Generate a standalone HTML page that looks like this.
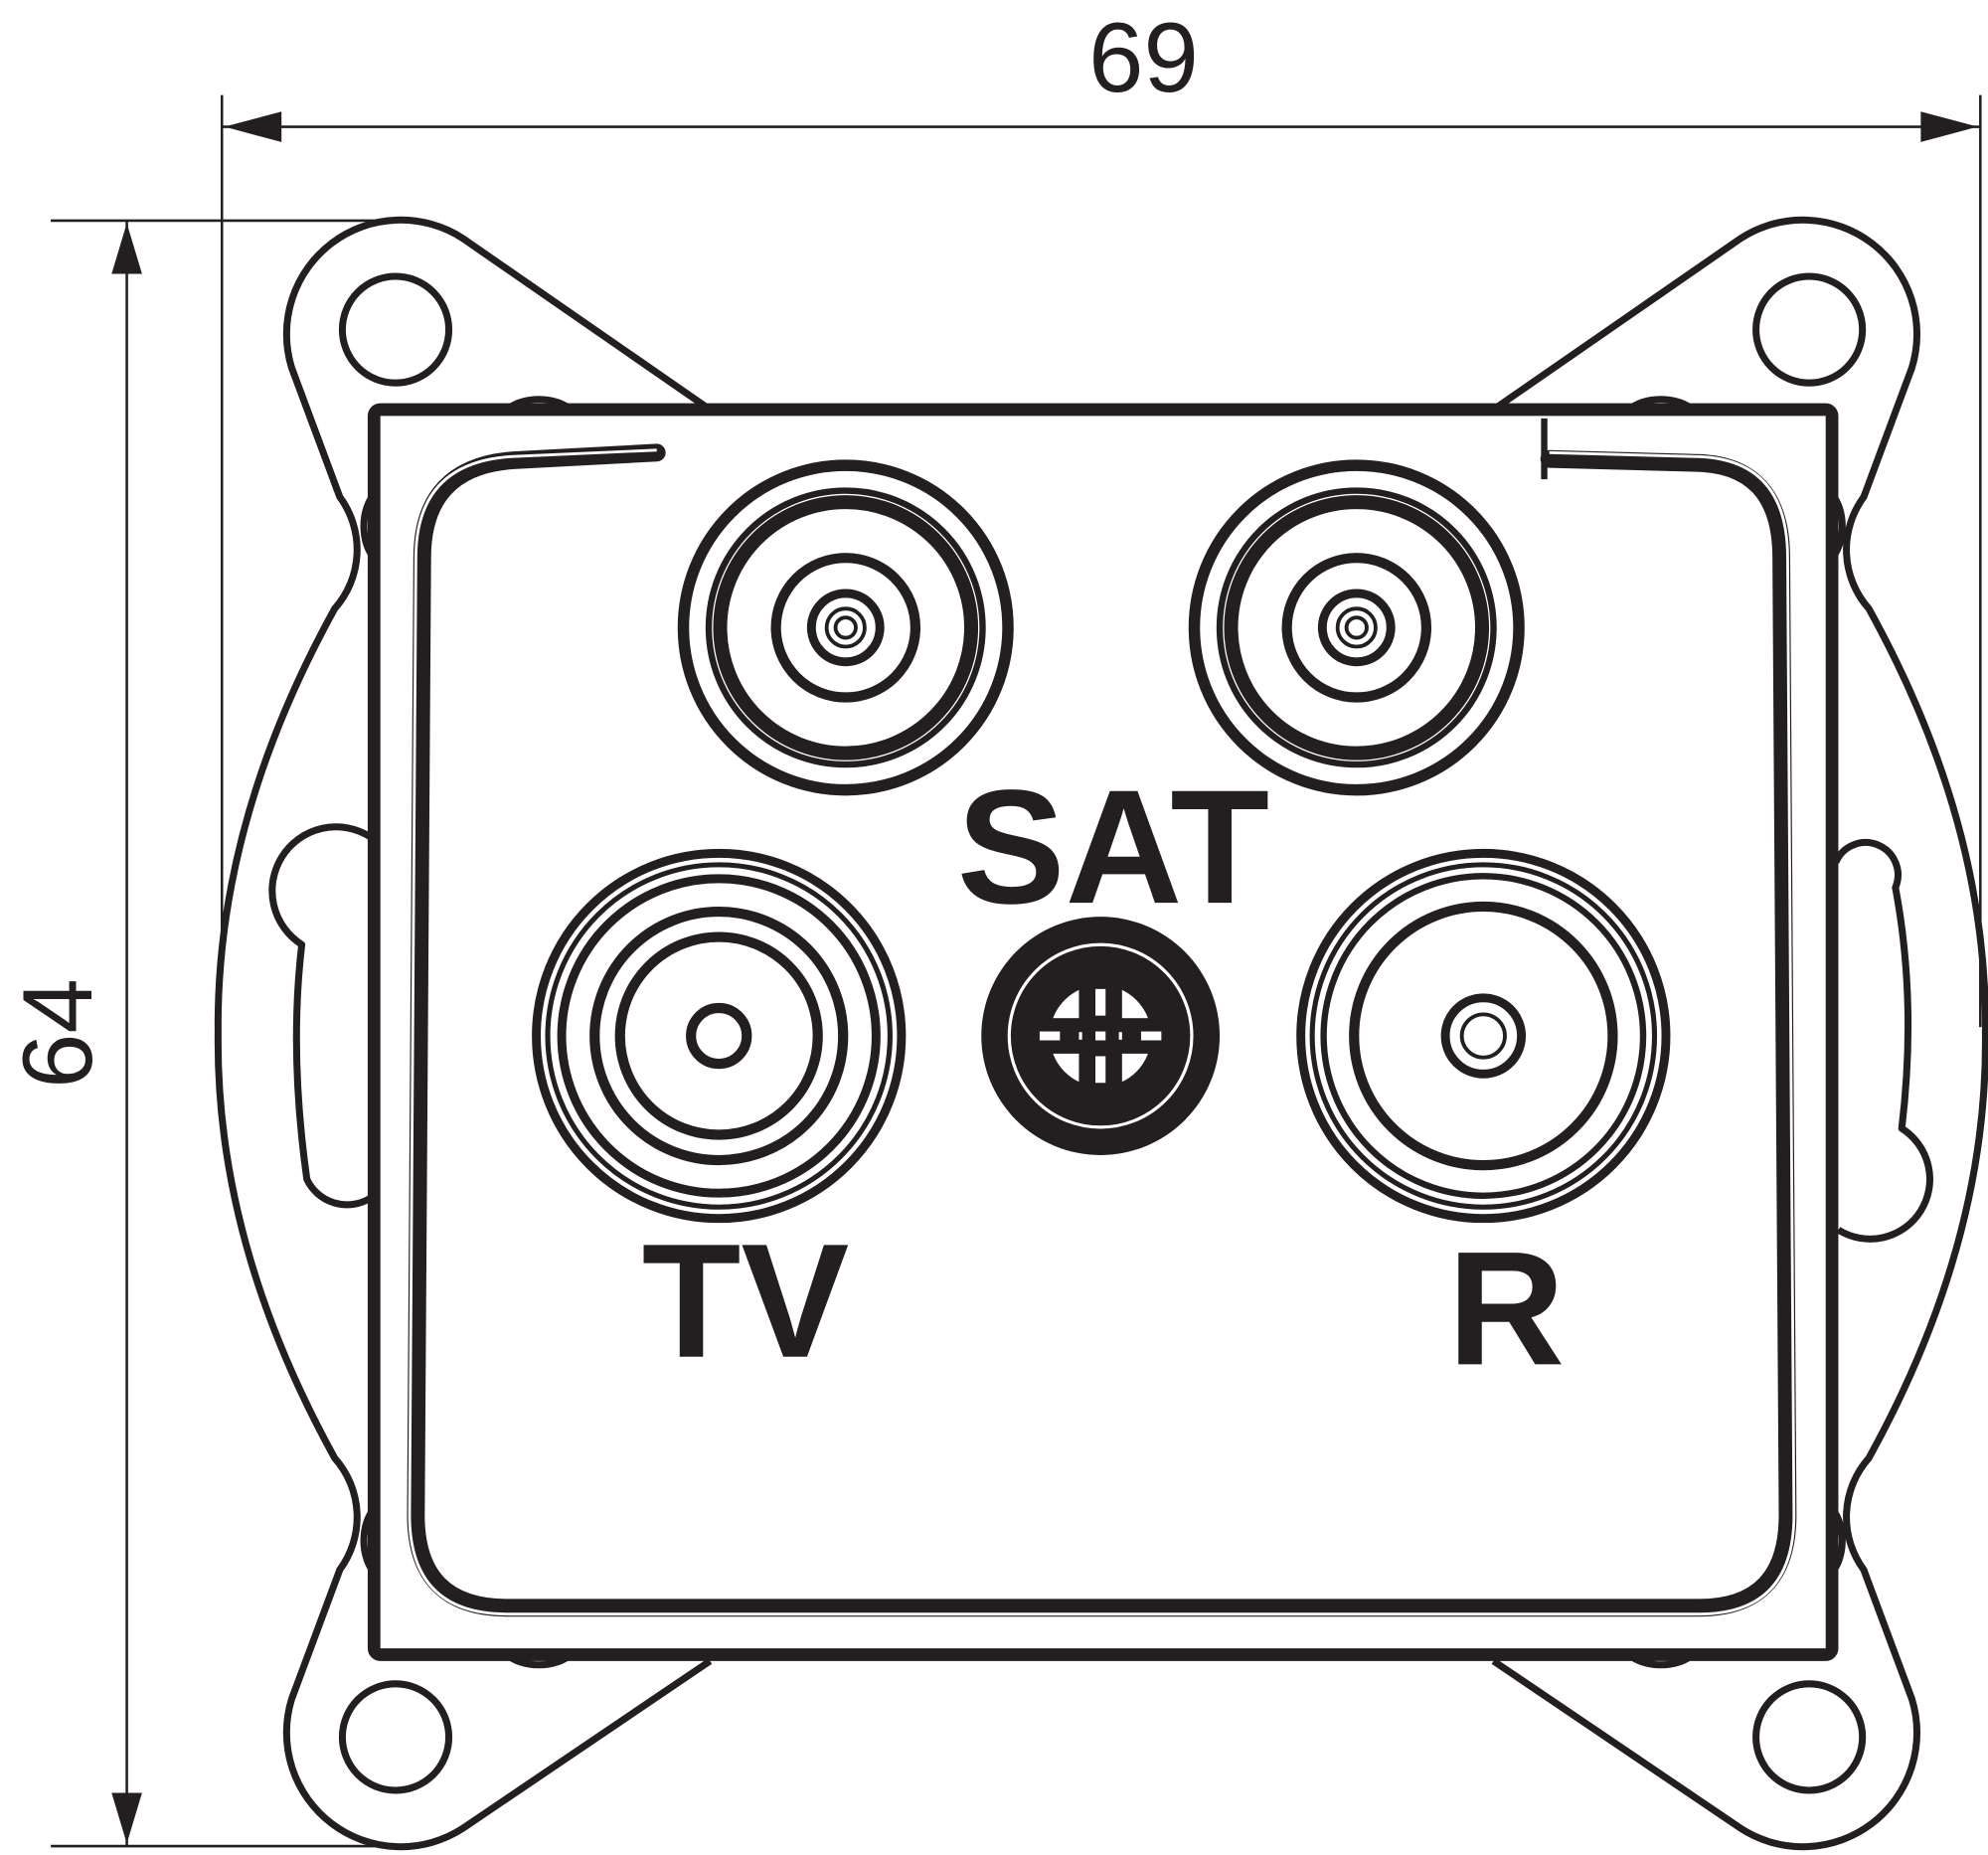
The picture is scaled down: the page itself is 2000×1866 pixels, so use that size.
<!DOCTYPE html>
<html><head><meta charset="utf-8"><style>
html,body{margin:0;padding:0;background:#fff;}
svg{display:block;}
</style></head><body>
<svg width="2000" height="1866" viewBox="0 0 1568 1463" xmlns="http://www.w3.org/2000/svg">
<rect width="1568" height="1463" fill="#fff"/>
<g fill="none" stroke="#231f20" stroke-width="2">
<line x1="175" y1="75" x2="175" y2="765"/>
<line x1="1562" y1="75" x2="1562" y2="810"/>
<line x1="175" y1="100" x2="1562" y2="100"/>
<line x1="40" y1="174" x2="300" y2="174"/>
<line x1="40" y1="1456" x2="300" y2="1456"/>
<line x1="100" y1="174" x2="100" y2="1456"/>
</g>
<g fill="#231f20">
<polygon points="177,100 222,88 222,112"/>
<polygon points="1560,100 1515,88 1515,112"/>
<polygon points="100,176 88,216 112,216"/>
<polygon points="100,1454 88,1414 112,1414"/>
</g>
<text x="902" y="72" font-family="Liberation Sans, sans-serif" font-size="78" fill="#231f20" text-anchor="middle">69</text>
<text transform="translate(72,815) rotate(-90)" font-family="Liberation Sans, sans-serif" font-size="78" fill="#231f20" text-anchor="middle">64</text>

<g fill="none" stroke="#231f20" stroke-width="5.5" stroke-linejoin="round">
<path d="M560,323 L365,188 A90,90 0 0 0 230,290 L268,392 A70,70 0 0 1 264,480 Q170,650 172,815 Q170,980 264,1150 A70,70 0 0 1 268,1238 L230,1340 A90,90 0 0 0 365,1442 L560,1310"/>
<path d="M1178,323 L1373,188 A90,90 0 0 1 1508,290 L1470,392 A70,70 0 0 0 1474,480 Q1568,650 1566,815 Q1568,980 1474,1150 A70,70 0 0 0 1470,1238 L1508,1340 A90,90 0 0 1 1373,1442 L1178,1310"/>
<circle cx="312" cy="260" r="42"/>
<circle cx="1427" cy="260" r="42"/>
<circle cx="312" cy="1370" r="42"/>
<circle cx="1427" cy="1370" r="42"/>
<path d="M292,660 A45,45 0 0 0 238,745 Q228,830 242,930 A35,35 0 0 0 292,945"/>
<path d="M1448,680 A25,25 0 0 1 1495,700 Q1512,790 1500,890 A45,45 0 0 1 1450,970"/>
<path d="M400,323 A30,18 0 0 1 450,323"/><path d="M1285,323 A30,18 0 0 1 1335,323"/>
<path d="M400,1305 A30,18 0 0 0 450,1305"/><path d="M1285,1305 A30,18 0 0 0 1335,1305"/>
<path d="M295,390 A18,30 0 0 0 295,440"/><path d="M1445,390 A18,30 0 0 1 1445,440"/>
<path d="M295,1190 A18,30 0 0 0 295,1240"/><path d="M1445,1190 A18,30 0 0 1 1445,1240"/>
</g>
<rect x="295" y="323" width="1150" height="982" rx="5" fill="#fff" stroke="#231f20" stroke-width="10"/>
<path d="M518,357 L405,363 Q333,368 333,440 L328,1195 Q328,1268 400,1268 L1340,1268 Q1410,1268 1410,1195 L1405,440 Q1405,365 1335,365 L1222,362" fill="none" stroke="#231f20" stroke-width="14" stroke-linecap="round"/>
<path d="M518,355 L405,360 Q328,364 328,440 L323,1195 Q323,1273 400,1273 L1340,1273 Q1415,1273 1415,1195 L1410,440 Q1410,360 1335,360 L1222,357" fill="none" stroke="#fff" stroke-width="2.2"/>
<line x1="1218" y1="330" x2="1218" y2="378" stroke="#231f20" stroke-width="5"/>

<g fill="none" stroke="#231f20">
<g transform="translate(667,495)">
<circle r="128" stroke-width="9"/><circle r="108" stroke-width="5"/><circle r="99" stroke-width="11"/>
<circle r="55" stroke-width="8"/><circle r="27" stroke-width="7"/><circle r="15" stroke-width="3"/><circle r="8" stroke-width="3"/>
</g>
<g transform="translate(1070,495)">
<circle r="128" stroke-width="9"/><circle r="108" stroke-width="5"/><circle r="99" stroke-width="11"/>
<circle r="55" stroke-width="8"/><circle r="27" stroke-width="7"/><circle r="15" stroke-width="3"/><circle r="8" stroke-width="3"/>
</g>
<g transform="translate(567,817)">
<circle r="144" stroke-width="7"/><circle r="135" stroke-width="4"/><circle r="124" stroke-width="7"/>
<circle r="98" stroke-width="8"/><circle r="78" stroke-width="8"/><circle r="22" stroke-width="8"/>
</g>
<g transform="translate(1170,817)">
<circle r="144" stroke-width="7"/><circle r="135" stroke-width="4"/><circle r="126" stroke-width="5"/>
<circle r="102" stroke-width="8"/><circle r="30" stroke-width="7"/><circle r="17" stroke-width="3"/>
</g>
</g>
<g transform="translate(868,817)">
<circle r="94" fill="#231f20"/>
<circle r="72" fill="none" stroke="#fff" stroke-width="2.5"/>
<clipPath id="cq"><circle r="40"/></clipPath>
<g clip-path="url(#cq)" fill="#fff">
<rect x="-45" y="-45" width="28" height="31"/>
<rect x="17" y="-45" width="28" height="31"/>
<rect x="-45" y="14" width="28" height="31"/>
<rect x="17" y="14" width="28" height="31"/>
</g>
<g fill="#fff">
<rect x="-4" y="-37" width="8" height="21"/>
<rect x="-4" y="16" width="8" height="21"/>
<rect x="-48" y="-3.5" width="16" height="7"/>
<rect x="32" y="-3.5" width="16" height="7"/>
<rect x="-17" y="-3" width="2.5" height="6"/>
<rect x="14.5" y="-3" width="2.5" height="6"/>
<rect x="-4" y="-3.5" width="8" height="7"/>
</g>
</g>

<g font-family="Liberation Sans, sans-serif" font-weight="bold" fill="#231f20" text-anchor="middle">
<text x="878" y="712" font-size="128">SAT</text>
<text x="588" y="1070" font-size="128">TV</text>
<text x="1188" y="1076" font-size="128">R</text>
</g>
</svg>
</body></html>
